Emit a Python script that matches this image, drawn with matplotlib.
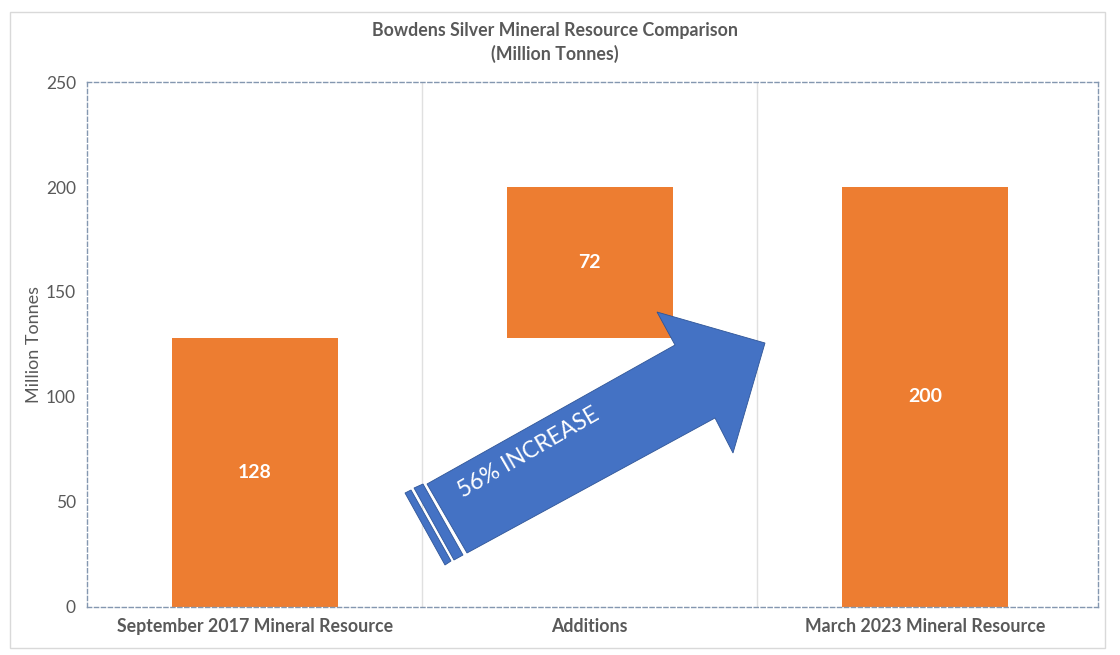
import matplotlib.pyplot as plt
from matplotlib.patches import Polygon, Rectangle

plt.rcParams['font.family'] = ['Lato', 'DejaVu Sans']

# données
categories = ['September 2017 Mineral Resource', 'Additions', 'March 2023 Mineral Resource']
valeurs = [128, 72, 200]
bases = [0, 128, 0]
yticks = [0, 50, 100, 150, 200, 250]

orange = '#ed7d31'
bleu = '#4472c4'
gris = '#595959'

fig = plt.figure(figsize=(11.2, 6.55), dpi=100)
ax = fig.add_axes([0.0777, 0.0733, 0.903, 0.8015])

x = list(range(len(categories)))
ax.bar(x, valeurs, bottom=bases, width=0.495, color=orange, zorder=2)

for xi, v, b in zip(x, valeurs, bases):
    ax.text(xi, b + v / 2, str(v), ha='center', va='center', color='white',
            fontsize=14, fontweight='bold', zorder=3)

ax.set_xlim(-0.5, 2.518)
ax.set_ylim(0, 250)
ax.set_yticks(yticks)
ax.set_xticks(x)
ax.set_xticklabels(categories, fontsize=12.8, fontweight='bold', color=gris)
ax.tick_params(axis='y', labelsize=12.5, labelcolor=gris, length=0, pad=8)
ax.tick_params(axis='x', length=0, pad=8)

# séparateurs verticaux entre catégories
for s in [0.5, 1.5]:
    ax.axvline(s, color='#e0e0e0', lw=1, zorder=1)

for sp in ax.spines.values():
    sp.set_linestyle((0, (3, 2)))
    sp.set_color('#8497b0')
    sp.set_linewidth(1)

ax.set_ylabel('Million Tonnes', fontsize=13, color=gris, labelpad=3)

fig.text(0.4955, 0.954, 'Bowdens Silver Mineral Resource Comparison', ha='center', va='center',
         fontsize=12.8, fontweight='bold', color=gris)
fig.text(0.4955, 0.918, '(Million Tonnes)', ha='center', va='center',
         fontsize=12.8, fontweight='bold', color=gris)

# cadre extérieur
fig.patches.append(Rectangle((10 / 1120, 1 - 648 / 655), 1095 / 1120, 636 / 655,
                             transform=fig.transFigure, fill=False, ec='#d9d9d9', lw=1))

# flèche "56% INCREASE" (coordonnées en pixels de la figure)
def px(pts):
    return [(a / 1120, 1 - b / 655) for a, b in pts]

corps = [(427, 484), (675, 345), (657, 312), (765, 343), (733, 453), (715, 418), (467, 553)]
fig.patches.append(Polygon(px(corps), closed=True, transform=fig.transFigure,
                           fc=bleu, ec='#2f5597', lw=0.6, zorder=5))
bande1 = [(405, 493), (411, 490), (451, 561), (445, 565)]
bande2 = [(414, 488), (423, 484), (463, 555), (454, 560)]
for b in [bande1, bande2]:
    fig.patches.append(Polygon(px(b), closed=True, transform=fig.transFigure,
                               fc=bleu, ec='#2f5597', lw=0.6, zorder=5))

fig.text(529 / 1120, 1 - 453 / 655, '56% INCREASE', ha='center', va='center', rotation=30,
         color='white', fontsize=16.5, zorder=6)

plt.savefig('out.png', dpi=100)
plt.close()
